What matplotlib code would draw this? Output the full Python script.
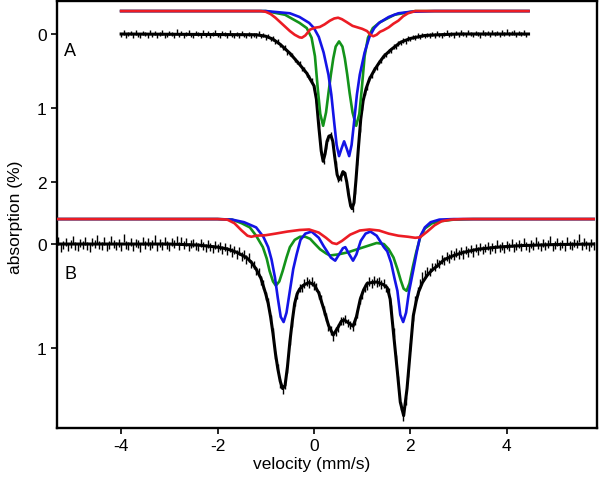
import numpy as np
import matplotlib
matplotlib.use("Agg")
import matplotlib.pyplot as plt

plt.rcParams['font.family'] = ['Liberation Sans', 'DejaVu Sans']
plt.rcParams['axes.unicode_minus'] = False

# ---------------- spectrum A ----------------
velA = np.linspace(-4.0, 4.4, 169)
dataA = [
    0.01, -0.02, 0.02, 0.00, -0.01, 0.03, -0.02, 0.01, 0.02, -0.01,
    0.00, 0.02, -0.03, 0.01, -0.01, 0.02, 0.00, -0.02, 0.03, 0.01,
    -0.01, 0.00, 0.02, -0.04, 0.01, -0.01, 0.03, 0.00, -0.02, 0.01,
    0.02, -0.01, 0.00, 0.03, -0.02, 0.01, -0.01, 0.02, 0.00, -0.03,
    0.01, 0.02, -0.01, 0.00, 0.02, -0.02, 0.01, 0.03, 0.00, 0.02,
    -0.01, 0.01, 0.03, 0.00, 0.02, 0.01,
    0.02, -0.01, 0.03, 0.01, 0.05, 0.03, 0.07, 0.06, 0.11, 0.10,
    0.15, 0.19, 0.18, 0.25, 0.27, 0.28, 0.35, 0.38, 0.40, 0.47,
    0.48, 0.55, 0.58, 0.62, 0.72, 0.90, 1.22, 1.60, 1.73, 1.52,
    1.41, 1.36, 1.49, 1.74, 1.97, 1.95, 1.88, 1.89, 2.11, 2.31,
    2.37, 2.13, 1.74, 1.30, 1.00, 0.80, 0.73, 0.60, 0.57, 0.48,
    0.46, 0.38, 0.36, 0.29, 0.28, 0.23, 0.22, 0.17, 0.17, 0.13,
    0.12, 0.09, 0.10, 0.06, 0.07, 0.04, 0.05, 0.02, 0.04, 0.01,
    0.03, 0.01, 0.02, 0.00, 0.02, -0.01, 0.01, 0.02, 0.00, -0.02,
    0.01, 0.00, 0.02, -0.01, 0.01, -0.02, 0.00, 0.01, -0.03, 0.00,
    0.01, -0.01, 0.00, 0.02, -0.02, 0.00, -0.01, 0.01, -0.03, 0.00,
    -0.01, 0.01, -0.02, 0.00, -0.04, 0.00, -0.01, -0.02, 0.01, -0.01,
    0.00, -0.02, 0.01,
]
errA = 0.03

fitA_v = [-4.0, -1.2, -1.0, -0.85, -0.7, -0.5, -0.3, -0.15, 0.0, 0.05, 0.1, 0.15,
          0.19, 0.23, 0.27, 0.31, 0.35, 0.39, 0.43, 0.48, 0.52, 0.56, 0.6, 0.64,
          0.68, 0.72, 0.76, 0.79, 0.83, 0.87, 0.92, 0.97, 1.02, 1.08, 1.15, 1.25,
          1.35, 1.45, 1.6, 1.8, 2.0, 2.3, 2.6, 3.0, 4.45]
fitA_y = [0.0, 0.01, 0.03, 0.07, 0.14, 0.26, 0.41, 0.53, 0.70, 0.88, 1.25, 1.58,
          1.72, 1.62, 1.45, 1.38, 1.37, 1.45, 1.66, 1.90, 1.97, 1.93, 1.86, 1.88,
          2.00, 2.18, 2.32, 2.36, 2.28, 1.98, 1.55, 1.15, 0.90, 0.74, 0.61, 0.49,
          0.39, 0.30, 0.21, 0.11, 0.06, 0.02, 0.01, 0.0, 0.0]

blueA_v = [-4.0, -1.0, -0.5, -0.3, -0.1, 0.0, 0.1, 0.2, 0.3, 0.36, 0.42, 0.47, 0.52,
           0.57, 0.625, 0.68, 0.73, 0.78, 0.83, 0.89, 0.95, 1.05, 1.15, 1.25, 1.35,
           1.55, 1.75, 2.0, 2.5, 4.45]
blueA_y = [-0.31, -0.31, -0.28, -0.23, -0.15, -0.08, 0.04, 0.25, 0.55, 0.82, 1.2,
           1.5, 1.65, 1.55, 1.45, 1.55, 1.65, 1.5, 1.2, 0.82, 0.55, 0.25, 0.04,
           -0.08, -0.15, -0.23, -0.28, -0.30, -0.31, -0.31]

greenA_v = [-4.0, -1.0, -0.6, -0.3, -0.15, -0.05, 0.02, 0.08, 0.13, 0.19, 0.25, 0.30,
            0.35, 0.40, 0.45, 0.52, 0.59, 0.64, 0.69, 0.74, 0.80, 0.875, 0.94, 0.99,
            1.05, 1.12, 1.22, 1.37, 1.67, 2.1, 4.45]
greenA_y = [-0.31, -0.31, -0.26, -0.15, -0.08, 0.05, 0.30, 0.75, 1.08, 1.24, 1.06,
            0.80, 0.55, 0.33, 0.17, 0.10, 0.17, 0.33, 0.55, 0.80, 1.06, 1.24, 1.08,
            0.75, 0.30, 0.05, -0.08, -0.16, -0.26, -0.31, -0.31]

redA_v = [-4.0, -1.1, -1.0, -0.9, -0.8, -0.7, -0.6, -0.5, -0.4, -0.3, -0.25, -0.18,
          -0.08, 0.02, 0.12, 0.22, 0.33, 0.42, 0.5, 0.58, 0.68, 0.8, 0.9, 1.0, 1.1,
          1.17, 1.23, 1.3, 1.37, 1.44, 1.55, 1.65, 1.75, 1.85, 1.95, 2.1, 4.45]
redA_y = [-0.31, -0.31, -0.30, -0.27, -0.22, -0.16, -0.10, -0.04, 0.01, 0.045, 0.05,
          0.02, -0.06, -0.085, -0.095, -0.13, -0.18, -0.21, -0.22, -0.20, -0.16,
          -0.11, -0.09, -0.07, -0.04, 0.01, 0.03, 0.01, -0.03, -0.05, -0.09, -0.14,
          -0.18, -0.24, -0.28, -0.31, -0.31]

# ---------------- spectrum B ----------------
velB = np.linspace(-5.4, 5.8, 225)
dataB = [
    -0.06, 0.02, -0.03, 0.04, 0.01, -0.02, 0.03, 0.00, -0.04, 0.02,
    0.03, -0.01, 0.01, -0.03, 0.02, 0.04, -0.02, 0.00, -0.05, 0.01,
    0.02, -0.03, 0.03, 0.01, -0.04, 0.00, 0.02, -0.01, 0.03, -0.06,
    0.01, 0.02, -0.02, 0.03, -0.01, 0.00, 0.04, -0.03, 0.01, -0.02,
    0.02, 0.00, -0.05, 0.03, -0.01, 0.02, -0.03, 0.01, 0.03, -0.02,
    0.00, -0.04, 0.02, -0.03, 0.01, -0.02, 0.03, 0.00, -0.01, 0.02,
    0.03, -0.01, 0.02, 0.04, 0.00, 0.03, 0.05, 0.01, 0.04, 0.02,
    0.06, 0.03, 0.07, 0.04, 0.08, 0.06, 0.10, 0.07, 0.12, 0.10,
    0.15, 0.13, 0.19, 0.20, 0.26, 0.27, 0.35, 0.39, 0.50, 0.56,
    0.72, 0.85, 1.07, 1.19, 1.34, 1.40, 1.35, 1.20, 0.93, 0.76,
    0.56, 0.49, 0.42, 0.42, 0.38, 0.36, 0.38, 0.36, 0.40, 0.41,
    0.49, 0.53, 0.64, 0.70, 0.80, 0.83, 0.89, 0.84, 0.81, 0.74,
    0.74, 0.72, 0.76, 0.78, 0.80, 0.74, 0.67, 0.54, 0.49, 0.42,
    0.40, 0.36, 0.38, 0.35, 0.37, 0.36, 0.39, 0.38, 0.42, 0.46,
    0.63, 0.85, 1.11, 1.31, 1.56, 1.66, 1.51, 1.24, 0.99, 0.70,
    0.54, 0.45, 0.38, 0.31, 0.29, 0.26, 0.27, 0.22, 0.22, 0.18,
    0.19, 0.15, 0.16, 0.12, 0.14, 0.10, 0.11, 0.08, 0.10,
    0.07, 0.10, 0.06, 0.08, 0.05, 0.08, 0.04, 0.07, 0.03, 0.06,
    0.04, 0.02, 0.06, 0.03, 0.05, 0.00, 0.04, 0.02, 0.05, 0.01,
    0.03, -0.01, 0.04, 0.02, 0.00, 0.03, -0.02, 0.02, 0.04, 0.00,
    0.02, -0.03, 0.01, 0.03, -0.01, 0.02, 0.00, -0.04, 0.03, 0.01,
    -0.02, 0.02, 0.00, 0.03, -0.03, 0.01, 0.02, -0.01, 0.00, -0.06,
    0.02, -0.02, 0.01, 0.03, -0.01, 0.02,
]
errB = 0.04

fitB_v = [-5.4, -3.0, -2.4, -2.2, -2.0, -1.8, -1.6, -1.4, -1.3, -1.2, -1.1, -1.0,
          -0.95, -0.9, -0.85, -0.8, -0.75, -0.7, -0.65, -0.6, -0.55, -0.5, -0.45,
          -0.4, -0.35, -0.3, -0.25, -0.2, -0.1, 0.0, 0.1, 0.2, 0.3, 0.4, 0.5, 0.57,
          0.63, 0.72, 0.81, 0.88, 0.96, 1.03, 1.1, 1.2, 1.3, 1.44, 1.52, 1.58, 1.65,
          1.73, 1.79, 1.86, 1.93, 2.0, 2.06, 2.12, 2.17, 2.25, 2.35, 2.45, 2.56, 2.7,
          2.9, 3.1, 3.4, 3.8, 4.3, 5.0, 5.8]
fitB_y = [0.0, 0.0, 0.01, 0.02, 0.03, 0.047, 0.08, 0.13, 0.175, 0.24, 0.33, 0.48,
          0.57, 0.70, 0.86, 1.05, 1.20, 1.32, 1.39, 1.36, 1.18, 0.94, 0.74, 0.57,
          0.48, 0.435, 0.41, 0.39, 0.37, 0.39, 0.47, 0.62, 0.78, 0.875, 0.80, 0.74,
          0.73, 0.76, 0.79, 0.70, 0.53, 0.44, 0.38, 0.37, 0.365, 0.39, 0.42, 0.53,
          0.86, 1.23, 1.52, 1.65, 1.39, 1.01, 0.69, 0.55, 0.46, 0.37, 0.30, 0.25,
          0.21, 0.15, 0.11, 0.08, 0.05, 0.03, 0.015, 0.005, 0.0]

blueB_v = [-5.4, -2.0, -1.7, -1.45, -1.2, -1.05, -0.95, -0.88, -0.81, -0.75, -0.69,
           -0.63, -0.57, -0.5, -0.43, -0.36, -0.28, -0.18, -0.05, 0.1, 0.2, 0.27,
           0.35, 0.44, 0.52, 0.6, 0.65, 0.72, 0.81, 0.88, 0.97, 1.07, 1.17, 1.3,
           1.45, 1.52, 1.6, 1.67, 1.73, 1.79, 1.85, 1.91, 1.97, 2.06, 2.13, 2.2, 2.3,
           2.42, 2.6, 2.9, 5.8]
blueB_y = [-0.24, -0.24, -0.235, -0.21, -0.16, -0.07, 0.03, 0.15, 0.32, 0.52, 0.70,
           0.75, 0.66, 0.45, 0.24, 0.10, -0.04, -0.10, -0.12, -0.06, 0.02, 0.07,
           0.13, 0.16, 0.10, 0.04, 0.03, 0.09, 0.16, 0.10, -0.03, -0.10, -0.12,
           -0.08, 0.03, 0.07, 0.18, 0.33, 0.45, 0.68, 0.75, 0.66, 0.46, 0.25, 0.08,
           -0.07, -0.16, -0.21, -0.235, -0.24, -0.24]

greenB_v = [-5.4, -2.0, -1.7, -1.5, -1.33, -1.2, -1.06, -0.98, -0.92, -0.85, -0.79,
            -0.72, -0.65, -0.57, -0.5, -0.4, -0.29, -0.18, -0.08, 0.0, 0.125, 0.25,
            0.33, 0.5, 0.7, 0.9, 1.1, 1.3, 1.45, 1.55, 1.65, 1.73, 1.8, 1.86, 1.92,
            1.98, 2.05, 2.12, 2.2, 2.3, 2.45, 2.63, 2.9, 3.3, 5.8]
greenB_y = [-0.24, -0.24, -0.235, -0.20, -0.16, -0.08, 0.03, 0.14, 0.26, 0.36, 0.40,
            0.36, 0.26, 0.13, 0.03, -0.04, -0.07, -0.07, -0.05, -0.01, 0.05, 0.09,
            0.11, 0.10, 0.08, 0.05, 0.02, -0.01, 0.00, 0.05, 0.13, 0.24, 0.35, 0.43,
            0.45, 0.38, 0.22, 0.08, -0.06, -0.15, -0.20, -0.22, -0.235, -0.24, -0.24]

redB_v = [-5.4, -2.0, -1.8, -1.65, -1.5, -1.38, -1.3, -1.2, -1.0, -0.8, -0.55, -0.3,
          -0.1, 0.1, 0.25, 0.38, 0.47, 0.58, 0.75, 0.95, 1.15, 1.35, 1.55, 1.75,
          1.95, 2.1, 2.2, 2.35, 2.5, 2.65, 2.85, 3.1, 5.8]
redB_y = [-0.24, -0.24, -0.235, -0.20, -0.13, -0.08, -0.07, -0.08, -0.085, -0.10,
          -0.12, -0.135, -0.14, -0.11, -0.06, -0.01, 0.00, -0.03, -0.09, -0.13,
          -0.14, -0.13, -0.10, -0.08, -0.07, -0.06, -0.065, -0.12, -0.18, -0.22,
          -0.235, -0.24, -0.24]

ticksA = [0, 1, 2]
ticksB = [0, 1]

# ---------------- figure ----------------
fig = plt.figure(figsize=(6.0, 4.81), dpi=100)
rect = [57 / 600, 52 / 481, 540 / 600, 427 / 481]
axA = fig.add_axes(rect)
axB = fig.add_axes(rect)

red = '#ec1c24'
blue = '#1414e6'
green = '#13931a'

axA.errorbar(velA, dataA, yerr=errA, fmt='none', ecolor='k', elinewidth=1.0)
axA.plot(fitA_v, fitA_y, color='k', lw=2.2)
axA.plot(greenA_v, greenA_y, color=green, lw=1.9)
axA.plot(blueA_v, blueA_y, color=blue, lw=1.9)
axA.plot(redA_v, redA_y, color=red, lw=1.9)

axB.errorbar(velB, dataB, yerr=errB, fmt='none', ecolor='k', elinewidth=1.0)
axB.plot(fitB_v, fitB_y, color='k', lw=2.2)
axB.plot(greenB_v, greenB_y, color=green, lw=1.9)
axB.plot(blueB_v, blueB_y, color=blue, lw=1.9)
axB.plot(redB_v, redB_y, color=red, lw=1.9)

xlim = (-5.33, 5.87)
axA.set_xlim(xlim)
axB.set_xlim(xlim)
axA.set_ylim(5.324, -0.446)
axB.set_ylim(1.769, -2.337)

axA.set_xticks([-4, -2, 0, 2, 4])
axA.set_yticks(ticksA)
axB.set_yticks(ticksB)
for ax in (axA, axB):
    ax.tick_params(direction='out', length=4.5, width=1.2, labelsize=12.5, pad=3)
axB.tick_params(bottom=False, labelbottom=False)
axB.set_frame_on(False)
axB.patch.set_visible(False)
for s in axA.spines.values():
    s.set_linewidth(1.7)

axA.text(70 / 600, 1 - 52 / 481, 'A', transform=fig.transFigure, fontsize=13,
         ha='center', va='center')
axA.text(71 / 600, 1 - 275 / 481, 'B', transform=fig.transFigure, fontsize=13,
         ha='center', va='center')
fig.text(312 / 600, 1 - 464 / 481, 'velocity (mm/s)', fontsize=12.5, ha='center', va='center')
fig.text(16 / 600, 1 - 217 / 481, 'absorption (%)', fontsize=12.5, ha='center', va='center',
         rotation=90)

fig.savefig('out.png', dpi=100)
